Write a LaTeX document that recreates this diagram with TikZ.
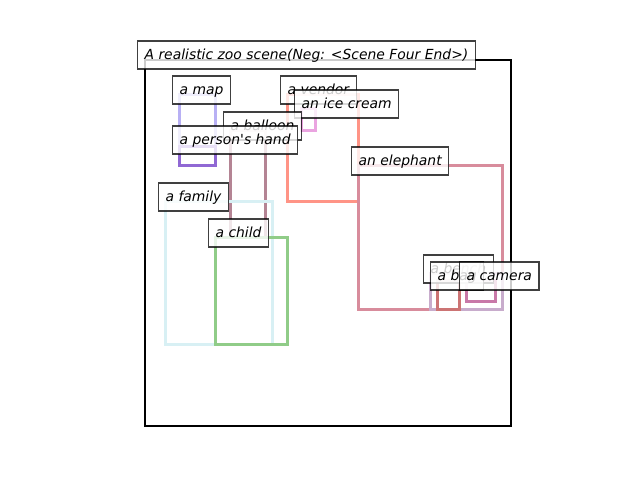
\documentclass[tikz,border=0pt]{standalone}
\usepackage{fontspec}
\setmainfont{DejaVu Sans}[Ligatures=TeXOff]
\definecolor{cmap}{HTML}{B8B0F4}
\definecolor{chand}{HTML}{9068D4}
\definecolor{cvendor}{HTML}{FF9486}
\definecolor{cice}{HTML}{EAA4E0}
\definecolor{cballoon}{HTML}{B48494}
\definecolor{celeph}{HTML}{D88C9C}
\definecolor{cfamily}{HTML}{D8F0F4}
\definecolor{cchild}{HTML}{90CC88}
\definecolor{cbench}{HTML}{C8ACCC}
\definecolor{cbag}{HTML}{CC7474}
\definecolor{ccam}{HTML}{C878A8}
\tikzset{
  bx/.style={draw=#1, line width=3pt, inner sep=0pt, outer sep=0pt, anchor=north west},
  lbl/.style={draw=black, draw opacity=0.75, fill=white, fill opacity=0.8, text opacity=1,
    line width=1.2pt, inner xsep=7pt, inner ysep=0pt, text height=18pt, text depth=10pt,
    anchor=base west, font=\fontsize{13.9}{16}\selectfont\itshape}
}
\begin{document}
\begin{tikzpicture}[x=1pt,y=-1pt]
\useasboundingbox (0,0) rectangle (640,480);
% frame
\node[draw=black, line width=2.3pt, inner sep=0pt, anchor=north west, minimum width=366pt, minimum height=366pt] (frame) at (144,59) {};
% boxes
\node[bx=cmap, minimum width=36pt, minimum height=52pt] (map) at (179,94) {};
\node[bx=cvendor, minimum width=71pt, minimum height=107pt] (vendor) at (287,94) {};
\node[bx=cice, minimum width=14pt, minimum height=22pt] (ice) at (301,108) {};
\node[bx=cballoon, minimum width=35pt, minimum height=107pt] (balloon) at (230,130) {};
\node[bx=chand, minimum width=36pt, minimum height=19pt] (hand) at (179,146) {};
\node[bx=celeph, minimum width=144pt, minimum height=144pt] (eleph) at (358,165) {};
\node[bx=cfamily, minimum width=107pt, minimum height=143pt] (family) at (165,201) {};
\node[bx=cchild, minimum width=72pt, minimum height=107pt] (child) at (215,237) {};
\node[bx=cbench, minimum width=72pt, minimum height=36pt] (bench) at (430,273) {};
\node[bx=cbag, minimum width=22pt, minimum height=29pt] (bag) at (437,280) {};
\node[bx=ccam, minimum width=29pt, minimum height=21pt] (cam) at (466,280) {};
% labels
\node[lbl] (ttitle) at (137,59) {A realistic zoo scene(Neg: <Scene Four End>)};
\node[lbl] (tmap) at (172,94) {a map};
\node[lbl] (tvendor) at (280,94) {a vendor};
\node[lbl] (tice) at (294,108) {an ice cream};
\node[lbl] (tballoon) at (223,130) {a balloon};
\node[lbl] (thand) at (172,144) {a person's hand};
\node[lbl] (teleph) at (351,165) {an elephant};
\node[lbl] (tfamily) at (158,201) {a family};
\node[lbl] (tchild) at (208,237) {a child};
\node[lbl] (tbench) at (423,273) {a bench};
\node[lbl] (tbag) at (430,280) {a bag};
\node[lbl] (tcam) at (459,280) {a camera};
\end{tikzpicture}
\end{document}
